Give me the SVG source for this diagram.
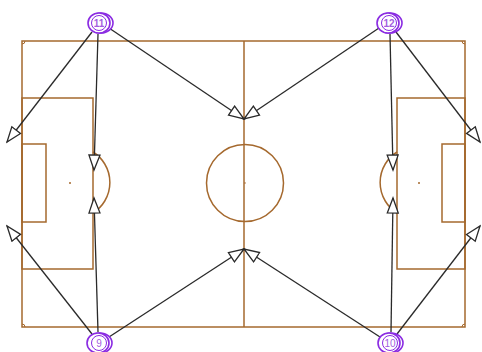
<svg xmlns="http://www.w3.org/2000/svg" width="482" height="352" viewBox="0 0 482 352">
<style>
.p{fill:none;stroke:#a5692e;stroke-width:1.5}
.c{stroke:#2a2a2a;stroke-width:1.3;fill:none;marker-end:url(#ah)}
.ring{fill:#fff;stroke:#8a2be2;stroke-width:1.6}
.t{font-family:"Liberation Sans",Arial,sans-serif;font-size:10px;font-weight:bold;fill:#a35ee0;text-anchor:middle}
</style>
<defs>
<marker id="ah" markerUnits="userSpaceOnUse" markerWidth="18" markerHeight="14" refX="15" refY="5.5" orient="auto" viewBox="-1 -1 18 14">
<path d="M0,0 L15,5.5 L0,11 z" fill="#fff" stroke="#2a2a2a" stroke-width="1.3"/>
</marker>
</defs>
<rect width="482" height="352" fill="#fff"/>
<g id="pitch">
<rect class="p" x="22" y="41" width="443" height="286"/>
<line class="p" x1="244" y1="41" x2="244" y2="327"/>
<circle class="p" cx="245" cy="183" r="38.5"/>
<circle cx="245" cy="183" r="0.8" fill="#a5692e"/>
<rect class="p" x="22" y="98" width="71" height="171"/>
<rect class="p" x="22" y="144" width="24" height="78"/>
<circle cx="70" cy="183" r="1" fill="#a5692e"/>
<path class="p" d="M93,152 A36,36 0 0 1 93,213"/>
<rect class="p" x="397" y="98" width="68" height="171"/>
<rect class="p" x="442" y="144" width="23" height="78"/>
<circle cx="419" cy="183" r="1" fill="#a5692e"/>
<path class="p" d="M397,152 A36,36 0 0 0 397,213"/>
<path class="p" d="M22,44 A3,3 0 0 0 25,41 M462,41 A3,3 0 0 0 465,44 M22,324 A3,3 0 0 1 25,327 M462,327 A3,3 0 0 1 465,324" style="stroke-width:1"/>
</g>
<g id="connectors">
<line class="c" x1="92" y1="32" x2="7" y2="142"/>
<line class="c" x1="98" y1="34" x2="94" y2="170"/>
<line class="c" x1="109" y1="28" x2="244" y2="119"/>
<line class="c" x1="396" y1="32" x2="480" y2="142"/>
<line class="c" x1="390" y1="34" x2="393" y2="170"/>
<line class="c" x1="379" y1="28" x2="244" y2="119"/>
<line class="c" x1="92" y1="334" x2="7" y2="226"/>
<line class="c" x1="98" y1="332" x2="94" y2="198"/>
<line class="c" x1="109" y1="337" x2="244" y2="249"/>
<line class="c" x1="397" y1="334" x2="480" y2="226"/>
<line class="c" x1="391" y1="332" x2="393" y2="198"/>
<line class="c" x1="380" y1="337" x2="244" y2="249"/>
</g>
<g id="p11">
<ellipse class="ring" cx="101" cy="23" rx="12" ry="10"/>
<ellipse class="ring" cx="99" cy="23" rx="11" ry="10"/>
<circle class="ring" cx="99" cy="23" r="7.5" style="stroke-width:1"/>
<text class="t" x="99" y="26.5">11</text>
</g>
<g id="p12">
<ellipse class="ring" cx="390" cy="23" rx="12" ry="10"/>
<ellipse class="ring" cx="388" cy="23" rx="11" ry="10"/>
<circle class="ring" cx="389" cy="23" r="7.5" style="stroke-width:1"/>
<text class="t" x="389" y="26.5">12</text>
</g>
<g id="p9">
<ellipse class="ring" cx="100" cy="343" rx="12" ry="10"/>
<ellipse class="ring" cx="98" cy="343" rx="11" ry="10"/>
<circle class="ring" cx="99" cy="343" r="7.5" style="stroke-width:1"/>
<text class="t" x="99" y="346.5" style="font-weight:normal">9</text>
</g>
<g id="p10">
<ellipse class="ring" cx="391" cy="343" rx="12" ry="10"/>
<ellipse class="ring" cx="389" cy="343" rx="11" ry="10"/>
<circle class="ring" cx="390" cy="343" r="7.5" style="stroke-width:1"/>
<text class="t" x="390" y="346.5" style="font-weight:normal">10</text>
</g>
</svg>
